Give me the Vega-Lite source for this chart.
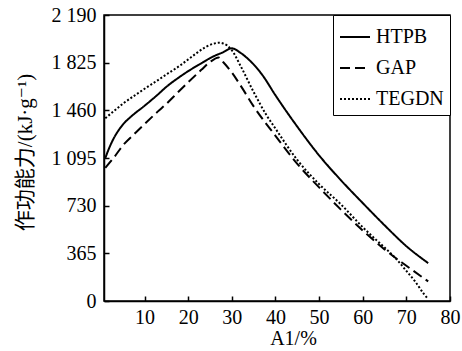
{
  "$schema": "https://vega.github.io/schema/vega-lite/v6.json",
  "width": 346,
  "height": 286,
  "autosize": "none",
  "padding": {"left": 104, "top": 15, "right": 12, "bottom": 50},
  "config": {
    "view": {"stroke": "black", "strokeWidth": 1.5},
    "font": "Liberation Serif",
    "axis": {
      "domainColor": "black",
      "domainWidth": 1.5,
      "tickColor": "black",
      "tickWidth": 1.5,
      "grid": false,
      "labelColor": "black",
      "titleColor": "black",
      "labelFont": "Liberation Serif",
      "labelFontSize": 20,
      "titleFontWeight": "normal"
    },
    "legend": {
      "labelFont": "Liberation Serif",
      "labelFontSize": 20,
      "labelColor": "black"
    }
  },
  "data": {
    "values": [
      {"x": 1, "v": 1095, "s": "HTPB"},
      {"x": 2, "v": 1180, "s": "HTPB"},
      {"x": 3, "v": 1250, "s": "HTPB"},
      {"x": 4, "v": 1305, "s": "HTPB"},
      {"x": 5, "v": 1350, "s": "HTPB"},
      {"x": 7, "v": 1415, "s": "HTPB"},
      {"x": 10, "v": 1495, "s": "HTPB"},
      {"x": 13, "v": 1580, "s": "HTPB"},
      {"x": 15, "v": 1640, "s": "HTPB"},
      {"x": 18, "v": 1715, "s": "HTPB"},
      {"x": 20, "v": 1760, "s": "HTPB"},
      {"x": 23, "v": 1820, "s": "HTPB"},
      {"x": 25, "v": 1860, "s": "HTPB"},
      {"x": 28, "v": 1905, "s": "HTPB"},
      {"x": 30, "v": 1935, "s": "HTPB"},
      {"x": 32, "v": 1900, "s": "HTPB"},
      {"x": 34, "v": 1845, "s": "HTPB"},
      {"x": 37, "v": 1730, "s": "HTPB"},
      {"x": 40, "v": 1575, "s": "HTPB"},
      {"x": 45, "v": 1335, "s": "HTPB"},
      {"x": 50, "v": 1115, "s": "HTPB"},
      {"x": 55, "v": 925, "s": "HTPB"},
      {"x": 60, "v": 750, "s": "HTPB"},
      {"x": 65, "v": 580, "s": "HTPB"},
      {"x": 70, "v": 420, "s": "HTPB"},
      {"x": 75, "v": 290, "s": "HTPB"},
      {"x": 1, "v": 1020, "s": "GAP"},
      {"x": 3, "v": 1100, "s": "GAP"},
      {"x": 5, "v": 1190, "s": "GAP"},
      {"x": 8, "v": 1290, "s": "GAP"},
      {"x": 10, "v": 1355, "s": "GAP"},
      {"x": 13, "v": 1450, "s": "GAP"},
      {"x": 15, "v": 1510, "s": "GAP"},
      {"x": 18, "v": 1610, "s": "GAP"},
      {"x": 20, "v": 1675, "s": "GAP"},
      {"x": 23, "v": 1770, "s": "GAP"},
      {"x": 25, "v": 1830, "s": "GAP"},
      {"x": 27, "v": 1865, "s": "GAP"},
      {"x": 28, "v": 1830, "s": "GAP"},
      {"x": 30, "v": 1750, "s": "GAP"},
      {"x": 32, "v": 1650, "s": "GAP"},
      {"x": 35, "v": 1490, "s": "GAP"},
      {"x": 40, "v": 1265, "s": "GAP"},
      {"x": 45, "v": 1050, "s": "GAP"},
      {"x": 50, "v": 870, "s": "GAP"},
      {"x": 55, "v": 700, "s": "GAP"},
      {"x": 60, "v": 540, "s": "GAP"},
      {"x": 65, "v": 395, "s": "GAP"},
      {"x": 70, "v": 270, "s": "GAP"},
      {"x": 75, "v": 150, "s": "GAP"},
      {"x": 1, "v": 1400, "s": "TEGDN"},
      {"x": 3, "v": 1455, "s": "TEGDN"},
      {"x": 5, "v": 1510, "s": "TEGDN"},
      {"x": 8, "v": 1580, "s": "TEGDN"},
      {"x": 10, "v": 1625, "s": "TEGDN"},
      {"x": 13, "v": 1690, "s": "TEGDN"},
      {"x": 15, "v": 1735, "s": "TEGDN"},
      {"x": 18, "v": 1800, "s": "TEGDN"},
      {"x": 20, "v": 1850, "s": "TEGDN"},
      {"x": 22, "v": 1900, "s": "TEGDN"},
      {"x": 24, "v": 1945, "s": "TEGDN"},
      {"x": 26, "v": 1972, "s": "TEGDN"},
      {"x": 27, "v": 1978, "s": "TEGDN"},
      {"x": 28, "v": 1972, "s": "TEGDN"},
      {"x": 29, "v": 1955, "s": "TEGDN"},
      {"x": 30, "v": 1920, "s": "TEGDN"},
      {"x": 32, "v": 1800, "s": "TEGDN"},
      {"x": 35, "v": 1600, "s": "TEGDN"},
      {"x": 38, "v": 1420, "s": "TEGDN"},
      {"x": 40, "v": 1320, "s": "TEGDN"},
      {"x": 45, "v": 1080, "s": "TEGDN"},
      {"x": 50, "v": 895, "s": "TEGDN"},
      {"x": 55, "v": 740, "s": "TEGDN"},
      {"x": 60, "v": 565, "s": "TEGDN"},
      {"x": 63, "v": 470, "s": "TEGDN"},
      {"x": 65, "v": 410, "s": "TEGDN"},
      {"x": 68, "v": 310, "s": "TEGDN"},
      {"x": 70, "v": 230, "s": "TEGDN"},
      {"x": 72, "v": 150, "s": "TEGDN"},
      {"x": 74, "v": 55, "s": "TEGDN"},
      {"x": 75, "v": 15, "s": "TEGDN"}
    ]
  },
  "mark": {"type": "line", "interpolate": "monotone", "strokeWidth": 2, "color": "black"},
  "encoding": {
    "x": {
      "field": "x",
      "type": "quantitative",
      "scale": {"domain": [0.7, 80], "nice": false, "zero": false},
      "axis": {
        "values": [10, 20, 30, 40, 50, 60, 70, 80],
        "tickSize": -5,
        "labelPadding": 11,
        "labelFlush": false,
        "title": "A1/%",
        "titleFont": "Liberation Serif",
        "titleFontSize": 20,
        "titleX": 189,
        "titleY": 43,
        "titleBaseline": "alphabetic",
        "titleAlign": "center"
      }
    },
    "y": {
      "field": "v",
      "type": "quantitative",
      "scale": {"domain": [0, 2190], "nice": false},
      "axis": {
        "values": [0, 365, 730, 1095, 1460, 1825, 2190],
        "labelExpr": "replace(format(datum.value, ','), ',', ' ')",
        "tickSize": -5,
        "labelPadding": 13,
        "labelFlush": false,
        "title": "作功能力/(kJ·g⁻¹)",
        "titleFont": "Liberation Serif, DejaVu Serif, Noto Sans CJK SC",
        "titleFontSize": 21,
        "titleX": -79,
        "titleY": 137,
        "titleAngle": -90,
        "titleAlign": "center",
        "titleBaseline": "middle"
      }
    },
    "strokeDash": {
      "field": "s",
      "type": "nominal",
      "scale": {"domain": ["HTPB", "GAP", "TEGDN"], "range": [[1, 0], [10, 5], [2, 2]]},
      "legend": {
        "title": null,
        "orient": "top-right",
        "offset": 0,
        "strokeColor": "black",
        "fillColor": "white",
        "padding": 6,
        "symbolType": "stroke",
        "symbolSize": 900,
        "symbolStrokeWidth": 2,
        "symbolStrokeColor": "black",
        "labelFont": "Times New Roman, Liberation Serif, serif",
        "labelFontSize": 20,
        "labelColor": "black",
        "labelOffset": 5,
        "rowPadding": 5,
        "encode": {
          "labels": {"update": {"font": {"value": "Liberation Serif"}, "fontSize": {"value": 20}}}
        }
      }
    }
  }
}
